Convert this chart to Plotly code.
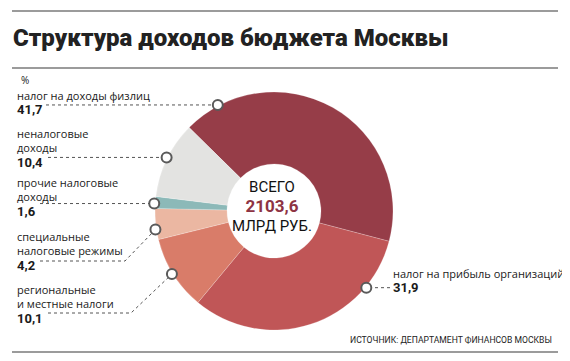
import math
import plotly.graph_objects as go

# ---------------- data ----------------
categories = [
    "налог на доходы физлиц",
    "налог на прибыль организаций",
    "региональные<br>и местные налоги",
    "специальные<br>налоговые режимы",
    "прочие налоговые<br>доходы",
    "неналоговые<br>доходы",
]
shares = [41.7, 31.9, 10.1, 4.2, 1.6, 10.4]
value_labels = ["41,7", "31,9", "10,1", "4,2", "1,6", "10,4"]
total_value = "2103,6"
title_text = "Структура доходов бюджета Москвы"
source_text = "ИСТОЧНИК: ДЕПАРТАМЕНТ ФИНАНСОВ МОСКВЫ"
unit_text = "%"

# ---------------- style / layout ----------------
colors = ["#963d48", "#c05657", "#d97c69", "#ebb7a2", "#8cb9b8", "#e3e3e1"]
PAGE_OFF = 8                      # default body margin of the html page
W, H = 570 - PAGE_OFF, 361 - PAGE_OFF
CX, CY, R = 274, 211, 119         # page pixels
ROT = -45.5
HOLE = 0.395
MARK_R = 120
mark_frac = [0.117, 0.217, 0.51, 0.33, 0.4, 0.52]
# label placement in page pixels: text x, y of first line centre, number centre y, leader start x, bend x
label_cfg = [
    dict(x=17, y0=95, num_y=108, lead_x=46, bend=None),
    dict(x=393, y0=273, num_y=286, lead_x=390, bend=None),
    dict(x=17, y0=289, num_y=313, lead_x=48, bend=131),
    dict(x=17, y0=236, num_y=261, lead_x=40, bend=125),
    dict(x=17, y0=182, num_y=207, lead_x=40, bend=None),
    dict(x=17, y0=133, num_y=159, lead_x=48, bend=None),
]
TXT_FONT = "Open Sans"
NUM_FONT = "Roboto"
TXT_SIZE = 11


def px(x):
    return (x - PAGE_OFF) / W


def py(y):
    return 1 - (y - PAGE_OFF) / H


fig = go.Figure()
fig.add_trace(go.Pie(
    labels=[c.replace("<br>", " ") for c in categories],
    values=shares,
    sort=False,
    direction="clockwise",
    rotation=ROT,
    hole=HOLE,
    marker=dict(colors=colors, line=dict(color="rgba(255,255,255,0.35)", width=0.6)),
    textinfo="none",
    hoverinfo="label+value",
    showlegend=False,
    domain=dict(x=[px(CX - R), px(CX + R)], y=[py(CY + R), py(CY - R)]),
))

shapes = []
annotations = []

# rules
for yy in (11, 68, 352):
    shapes.append(dict(type="line", xref="paper", yref="paper",
                       x0=px(12), x1=px(558), y0=py(yy), y1=py(yy),
                       line=dict(color="#7a7a7a", width=1.6)))

total = sum(shares)
cum = 0.0
dots = []
for i, v in enumerate(shares):
    start = ROT + 360 * cum / total
    ang = math.radians(start + mark_frac[i] * 360 * v / total)
    dx = CX + MARK_R * math.sin(ang)
    dy = CY - MARK_R * math.cos(ang)
    cum += v
    cfg = label_cfg[i]
    if cfg["bend"] is None:
        path = f"M {px(cfg['lead_x'])} {py(dy)} L {px(dx)} {py(dy)}"
    else:
        path = (f"M {px(cfg['lead_x'])} {py(cfg['num_y'])} "
                f"L {px(cfg['bend'])} {py(cfg['num_y'])} L {px(dx)} {py(dy)}")
    shapes.append(dict(type="path", xref="paper", yref="paper", path=path,
                       line=dict(color="#555555", width=1, dash="dot")))
    dots.append((dx, dy))
    label = (categories[i] +
             f"<br><span style='font-family:{NUM_FONT};font-size:13px'><b>{value_labels[i]}</b></span>")
    annotations.append(dict(
        text=label, xref="paper", yref="paper", x=px(cfg["x"] - 1),
        y=py(cfg["y0"] - 8), xanchor="left", yanchor="top", align="left",
        showarrow=False, borderpad=0,
        font=dict(family=TXT_FONT, size=TXT_SIZE, color="#1a1a1a")))

for dx, dy in dots:
    rr = 5
    shapes.append(dict(type="circle", xref="paper", yref="paper",
                       x0=px(dx - rr), x1=px(dx + rr), y0=py(dy + rr), y1=py(dy - rr),
                       fillcolor="white", line=dict(color="#5a5a5a", width=2)))

annotations.append(dict(text=title_text, xref="paper", yref="paper",
                        x=px(11), y=py(38), xanchor="left", yanchor="middle", showarrow=False,
                        font=dict(family="Roboto", size=24, color="#222222", weight=900)))
annotations.append(dict(text=unit_text, xref="paper", yref="paper", x=px(19), y=py(80),
                        xanchor="left", yanchor="middle", showarrow=False,
                        font=dict(family=TXT_FONT, size=10, color="#1a1a1a")))
annotations.append(dict(
    text=(f"ВСЕГО<br><span style='color:#8e3343;font-size:17px'><b>{total_value}</b></span>"
          "<br>МЛРД РУБ."),
    xref="paper", yref="paper", x=px(272), y=py(207), xanchor="center", yanchor="middle",
    align="center", showarrow=False, borderpad=0,
    font=dict(family="Roboto", size=15, color="#111111")))
annotations.append(dict(text=source_text, xref="paper", yref="paper", x=px(554), y=py(340),
                        xanchor="right", yanchor="middle", showarrow=False,
                        font=dict(family="Roboto", size=8.6, color="#222222")))

fig.update_layout(
    width=W, height=H, margin=dict(l=0, r=0, t=0, b=0),
    paper_bgcolor="white", plot_bgcolor="white",
    shapes=shapes, annotations=annotations, showlegend=False,
)
fig.write_html("out.html")
